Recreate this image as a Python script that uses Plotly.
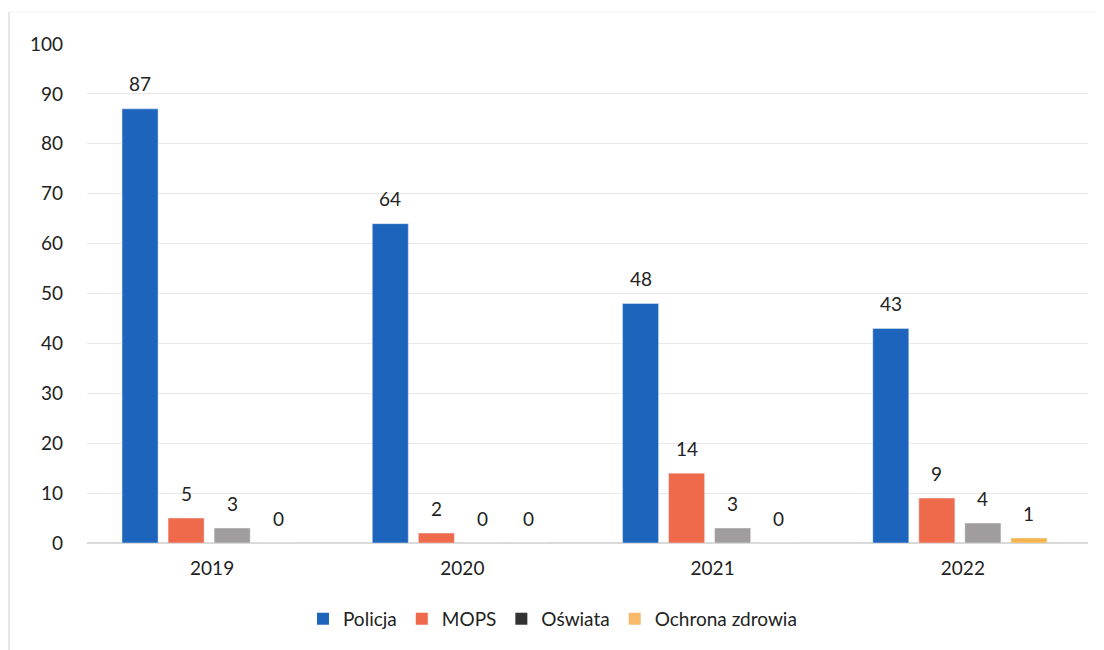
import plotly.graph_objects as go

years = ["2019", "2020", "2021", "2022"]
policja = [87, 64, 48, 43]
mops = [5, 2, 14, 9]
oswiata = [3, 0, 3, 4]
ochrona = [0, 0, 0, 1]

font_family = "Lato, 'Open Sans', sans-serif"
label_font = dict(family=font_family, size=19, color="#222222")

series = [
    ("Policja", policja, "#1d64bd", "#1d64bd"),
    ("MOPS", mops, "#ee6a4b", "#ee6a4b"),
    ("Oświata", oswiata, "#a19c9d", "#333333"),
    ("Ochrona zdrowia", ochrona, "#f7b54d", "#f9b96a"),
]

bar_w = 0.144
slot = 0.184
start = -0.36

fig = go.Figure()
annotations = []
for i, (name, vals, bar_col, leg_col) in enumerate(series):
    off = start + i * slot
    fig.add_trace(go.Bar(
        x=years, y=vals, name=name, marker_color=bar_col,
        width=bar_w, offset=off, showlegend=False,
    ))
    for k, v in enumerate(vals):
        annotations.append(dict(
            x=k + off + bar_w / 2, y=v, xref="x", yref="y", text=str(v),
            showarrow=False, yshift=25, font=label_font,
        ))
for name, vals, bar_col, leg_col in series:
    fig.add_trace(go.Scatter(
        x=[None], y=[None], name=name, mode="markers",
        marker=dict(symbol="square", size=12, color=leg_col), showlegend=True,
    ))

fig.update_layout(
    width=1104, height=650,
    paper_bgcolor="white", plot_bgcolor="white",
    margin=dict(l=79, r=24, t=36, b=115, autoexpand=False),
    font=dict(family=font_family, size=18, color="#222222"),
    legend=dict(orientation="h", x=0.465, xanchor="center", y=-0.114, yanchor="top",
                font=dict(size=19), itemwidth=30, traceorder="normal"),
    xaxis=dict(showline=False, ticks="", tickfont=dict(size=19), ticklabelstandoff=12,
               range=[-0.5, 3.5]),
    yaxis=dict(range=[0, 100], dtick=10, showgrid=True, gridcolor="#e8e8e8",
               zeroline=True, zerolinecolor="#d9d9d9", ticks="", ticklabelstandoff=23,
               tickfont=dict(size=19)),
    annotations=annotations,
    shapes=[
        dict(type="line", xref="paper", yref="paper", x0=-0.078, x1=-0.078, y0=-0.3, y1=1.064,
             line=dict(color="#e6e6e6", width=2)),
        dict(type="line", xref="paper", yref="paper", x0=-0.078, x1=1.03, y0=1.064, y1=1.064,
             line=dict(color="#f2f2f2", width=1)),
    ],
)
fig.write_html("out.html")
